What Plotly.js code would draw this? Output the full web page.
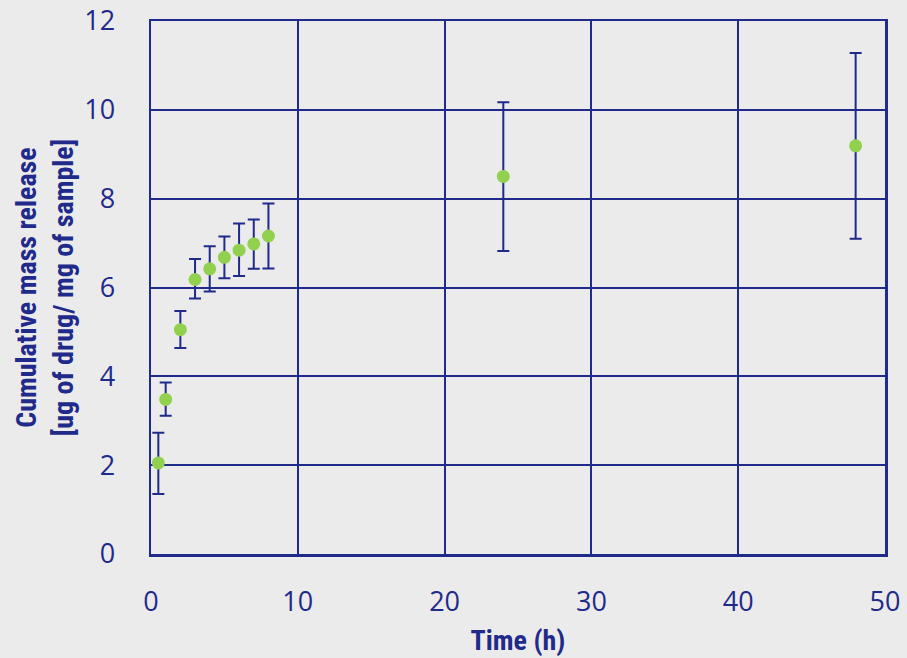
<!DOCTYPE html>
<html>
<head>
<meta charset="utf-8">
<script src="https://cdn.plot.ly/plotly-3.0.1.min.js"></script>
<style>html,body{margin:0;padding:0;background:#EBEBEB;}#chart{width:907px;height:658px;}</style>
</head>
<body>
<div id="chart"></div>
<script>
const timeH = [0.5, 1, 2, 3, 4, 5, 6, 7, 8, 24, 48];
const release = [2.05, 3.48, 5.05, 6.18, 6.42, 6.68, 6.84, 6.98, 7.16, 8.50, 9.19];
const errPlus = [0.68, 0.38, 0.42, 0.46, 0.51, 0.47, 0.60, 0.55, 0.73, 1.67, 2.09];
const errMinus = [0.70, 0.37, 0.41, 0.43, 0.51, 0.47, 0.58, 0.56, 0.73, 1.68, 2.09];
const xTicks = [0, 10, 20, 30, 40, 50];
const yTicks = [0, 2, 4, 6, 8, 10, 12];

const navy = '#1F2A8A';
const trace = {
  x: timeH, y: release, type: 'scatter', mode: 'markers',
  marker: {color: '#92D050', size: 13},
  error_y: {type: 'data', symmetric: false, array: errPlus, arrayminus: errMinus,
            color: navy, thickness: 2, width: 6},
  showlegend: false, hoverinfo: 'x+y'
};
const titleFont = {family: '"Roboto Condensed", "Open Sans", sans-serif', size: 28, color: navy, weight: 'bold'};
const tickFont = {family: '"Open Sans", "Noto Sans", sans-serif', size: 27, color: navy};
const layout = {
  width: 907, height: 658,
  paper_bgcolor: '#EBEBEB', plot_bgcolor: '#EBEBEB',
  margin: {l: 151, r: 22, t: 21, b: 104},
  xaxis: {
    range: [0, 50], tickvals: xTicks, ticktext: xTicks.map(String),
    showgrid: true, gridcolor: navy, gridwidth: 2,
    showline: true, linecolor: navy, linewidth: 2.5, mirror: true,
    zeroline: false, ticks: '', ticklabelstandoff: 22,
    tickfont: tickFont,
    title: {text: 'Time (h)', font: titleFont, standoff: 13}
  },
  yaxis: {
    range: [0, 12], tickvals: yTicks, ticktext: yTicks.map(String),
    showgrid: true, gridcolor: navy, gridwidth: 2,
    showline: true, linecolor: navy, linewidth: 2.5, mirror: true,
    zeroline: false, ticks: '', ticklabelstandoff: 28,
    tickfont: tickFont,
    title: {text: 'Cumulative mass release<br>[ug of drug/ mg of sample]', font: titleFont, standoff: 3}
  }
};
Plotly.newPlot('chart', [trace], layout, {displayModeBar: false, staticPlot: true});
</script>
</body>
</html>
